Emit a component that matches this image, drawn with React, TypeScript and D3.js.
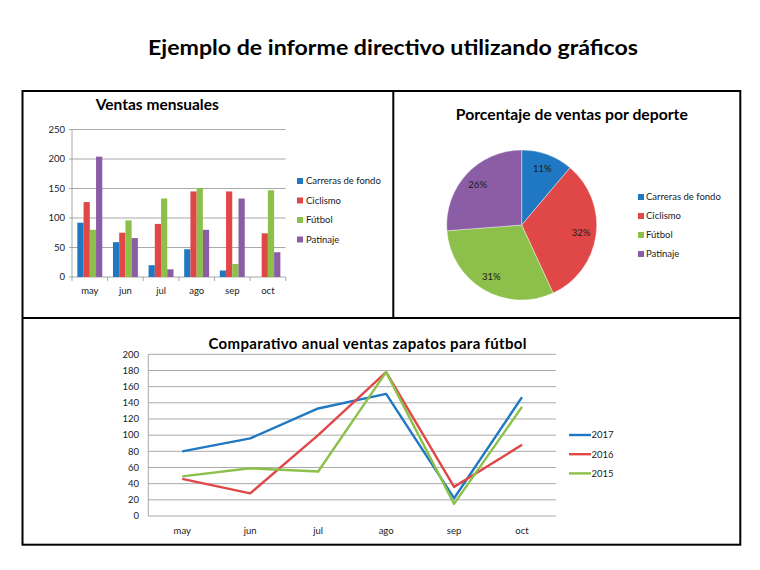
import React from "react";
import * as d3 from "d3";

const months = ["may", "jun", "jul", "ago", "sep", "oct"];
const sports = ["Carreras de fondo", "Ciclismo", "Fútbol", "Patinaje"];
const carreras = [92, 59, 20, 47, 11, 0];
const ciclismo = [127, 75, 90, 145, 145, 74];
const futbol = [80, 96, 133, 151, 22, 147];
const patinaje = [204, 66, 13, 80, 133, 42];
const barTicks = [0, 50, 100, 150, 200, 250];

const years = ["2017", "2016", "2015"];
const y2017 = [80, 96, 133, 151, 22, 147];
const y2016 = [46, 28, 100, 178, 36, 88];
const y2015 = [49, 59, 55, 178, 15, 135];
const lineTicks = [0, 20, 40, 60, 80, 100, 120, 140, 160, 180, 200];

const sportColors = ["#1F78C1", "#E04848", "#8DC04A", "#8A5DA5"];
const yearColors = ["#1F78C1", "#E04848", "#8DC04A"];

const FONT = "Lato, 'Open Sans', 'Liberation Sans', sans-serif";
const TXT = "#1a1a1a";
const GRID = "#939393";

function BarChart() {
  const series = [carreras, ciclismo, futbol, patinaje];
  const x0 = d3.scaleBand<string>().domain(months).range([72, 285.7]).paddingInner(0.3).paddingOuter(0.15);
  const x1 = d3.scaleBand<number>().domain(d3.range(series.length)).range([0, x0.bandwidth()]);
  const y = d3.scaleLinear().domain([0, 250]).range([277, 129.5]);
  const step = x0.step();
  return (
    <g>
      <text x={157.3} y={110} textAnchor="middle" fontWeight="bold" fontSize={15.2} fill="#000" textLength={123} lengthAdjust="spacingAndGlyphs">Ventas mensuales</text>
      {barTicks.map((t) => (
        <g key={t}>
          <line x1={72} x2={285.7} y1={y(t)} y2={y(t)} stroke={GRID} strokeWidth={0.8} />
          <line x1={69} x2={72} y1={y(t)} y2={y(t)} stroke={GRID} strokeWidth={0.8} />
          <text x={65} y={y(t)} dy="0.35em" textAnchor="end" fontSize={9.5} fill={TXT}>{t}</text>
        </g>
      ))}
      <line x1={72} x2={72} y1={y(250)} y2={y(0)} stroke={GRID} strokeWidth={0.8} />
      {d3.range(months.length + 1).map((i) => (
        <line key={i} x1={72 + i * step} x2={72 + i * step} y1={y(0)} y2={y(0) + 4} stroke={GRID} strokeWidth={0.8} />
      ))}
      {months.map((m, i) => (
        <g key={m}>
          {series.map((s, k) => (
            <rect key={k} x={(x0(m) as number) + (x1(k) as number)} y={y(s[i])} width={x1.bandwidth()} height={y(0) - y(s[i])} fill={sportColors[k]} />
          ))}
          <text x={(x0(m) as number) + x0.bandwidth() / 2} y={294} textAnchor="middle" fontSize={9.5} fill={TXT}>{m}</text>
        </g>
      ))}
      {sports.map((s, k) => (
        <g key={s}>
          <rect x={297} y={181 + k * 19.5 - 3} width={6} height={6} fill={sportColors[k]} />
          <text x={306} y={181 + k * 19.5} dy="0.35em" fontSize={9.5} fill={TXT}>{s}</text>
        </g>
      ))}
    </g>
  );
}

function PieChart() {
  const totals = [carreras, ciclismo, futbol, patinaje].map((s) => d3.sum(s));
  const total = d3.sum(totals);
  const pie = d3.pie<number>().sort(null).value((d) => d);
  const arcs = pie(totals);
  const arc = d3.arc<d3.PieArcDatum<number>>().innerRadius(0).outerRadius(75);
  const labelArc = d3.arc<d3.PieArcDatum<number>>().innerRadius(60).outerRadius(60);
  const cx = 521.7, cy = 225;
  return (
    <g>
      <text x={571.8} y={119.5} textAnchor="middle" fontWeight="bold" fontSize={15.5} fill="#000" textLength={232} lengthAdjust="spacingAndGlyphs">Porcentaje de ventas por deporte</text>
      <g transform={`translate(${cx},${cy})`}>
        {arcs.map((a, k) => (
          <path key={k} d={arc(a) as string} fill={sportColors[k]} stroke="#fff" strokeWidth={0.4} />
        ))}
        {arcs.map((a, k) => {
          const [lx, ly] = labelArc.centroid(a);
          return (
            <text key={k} x={lx} y={ly} dy="0.35em" textAnchor="middle" fontSize={9.5} fill={TXT}>
              {Math.round((a.data / total) * 100)}%
            </text>
          );
        })}
      </g>
      {sports.map((s, k) => (
        <g key={s}>
          <rect x={638} y={197 + k * 19 - 3} width={6} height={6} fill={sportColors[k]} />
          <text x={646} y={197 + k * 19} dy="0.35em" fontSize={9.5} fill={TXT}>{s}</text>
        </g>
      ))}
    </g>
  );
}

function LineChart() {
  const series = [y2017, y2016, y2015];
  const x = d3.scalePoint<string>().domain(months).range([148.3, 556]).padding(0.5);
  const y = d3.scaleLinear().domain([0, 200]).range([516, 354.3]);
  const line = d3.line<number>().x((_, i) => x(months[i]) as number).y((d) => y(d));
  return (
    <g>
      <text x={367.5} y={348.5} textAnchor="middle" fontWeight="bold" fontSize={15} fill="#000" textLength={318} lengthAdjust="spacing">Comparativo anual ventas zapatos para fútbol</text>
      {lineTicks.map((t) => (
        <g key={t}>
          <line x1={148.3} x2={556} y1={y(t)} y2={y(t)} stroke={GRID} strokeWidth={0.8} />
          <text x={139} y={y(t)} dy="0.35em" textAnchor="end" fontSize={9.5} fill={TXT}>{t}</text>
        </g>
      ))}
      <line x1={148.3} x2={148.3} y1={y(200)} y2={y(0)} stroke={GRID} strokeWidth={0.8} />
      {months.map((m) => (
        <text key={m} x={x(m) as number} y={534} textAnchor="middle" fontSize={9.5} fill={TXT}>{m}</text>
      ))}
      {series.map((s, k) => (
        <path key={k} d={line(s) as string} fill="none" stroke={yearColors[k]} strokeWidth={2.4} strokeLinejoin="round" />
      ))}
      {years.map((yr, k) => (
        <g key={yr}>
          <line x1={569} x2={591} y1={435 + k * 19.2} y2={435 + k * 19.2} stroke={yearColors[k]} strokeWidth={2.4} />
          <text x={591.5} y={435 + k * 19.2} dy="0.35em" fontSize={9.5} fill={TXT}>{yr}</text>
        </g>
      ))}
    </g>
  );
}

export default function App() {
  return (
    <svg width={760} height={570} style={{ position: "absolute", left: 0, top: 0, background: "#fff" }} fontFamily={FONT}>
      <rect x={0} y={0} width={760} height={570} fill="#fff" />
      <text x={393} y={55} textAnchor="middle" fontWeight="bold" fontSize={21} fill="#000" textLength={490} lengthAdjust="spacingAndGlyphs">
        Ejemplo de informe directivo utilizando gráficos
      </text>
      <BarChart />
      <PieChart />
      <LineChart />
      <rect x={22.5} y={91} width={717.8} height={453.7} fill="none" stroke="#000" strokeWidth={2} />
      <line x1={22.5} x2={740.3} y1={318} y2={318} stroke="#000" strokeWidth={2} />
      <line x1={393.3} x2={393.3} y1={91} y2={318} stroke="#000" strokeWidth={2} />
    </svg>
  );
}
